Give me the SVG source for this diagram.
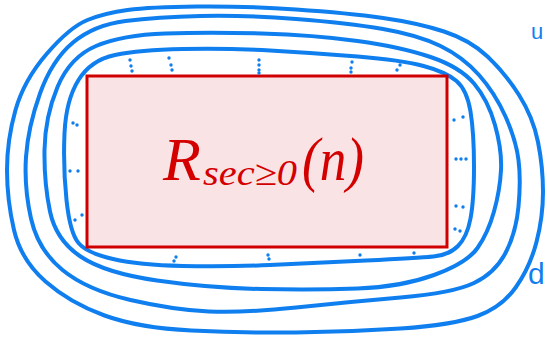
<svg xmlns="http://www.w3.org/2000/svg" width="547" height="339" viewBox="0 0 547 339">
<style>
.loop{fill:none;stroke:#0f7ff0;stroke-width:4;stroke-linejoin:round;stroke-linecap:round}
.dot{fill:#0f7ff0}
.lbl{fill:#d40000;font-family:"Liberation Serif","DejaVu Serif",serif;font-style:italic}
.side{fill:#0f7ff0;font-family:"Liberation Sans","DejaVu Sans",sans-serif}
</style>
<rect width="547" height="339" fill="#ffffff"/>
<g id="connectors">
<path class="loop" d="M87.5,20 Q105,13 127.5,10 Q150,7 197,6.5 Q244,6 296,9.5 Q348,13 383,18 Q418,23 444,31.5 Q470,40 487.5,56.5 Q505,73 519,95 Q533,117 538,142 Q543,167 543,192 Q543,217 536.5,242 Q530,267 516,287 Q502,307 477.5,316 Q453,325 400.5,328.5 Q348,332 296,332.5 Q244,333 191.5,330.5 Q139,328 104.5,315.5 Q70,303 45.5,281.5 Q21,260 14,230 Q7,200 7,170 Q7,140 15.5,110 Q24,80 47,53.5 Q70,27 87.5,20 Z"/>
<path class="loop" d="M73,42.5 Q94,25 125.5,21 Q157,17 200.5,16 Q244,15 296,19 Q348,23 383,29 Q418,35 440.5,46 Q463,57 479,75 Q495,93 505.5,116.5 Q516,140 518.5,160 Q521,180 518.5,206.5 Q516,233 505.5,253 Q495,273 474,283 Q453,293 400.5,297.5 Q348,302 296,307.5 Q244,313 209,311.5 Q174,310 130.5,300 Q87,290 62.5,270 Q38,250 31,218.5 Q24,187 26,157 Q28,127 40,93.5 Q52,60 73,42.5 Z"/>
<path class="loop" d="M96,46 Q122,35 165.5,33.5 Q209,32 261.5,33.5 Q314,35 357.5,41 Q401,47 430.5,57 Q460,67 474,83.5 Q488,100 495,125 Q502,150 501,170 Q500,190 494,211.5 Q488,233 477.5,248 Q467,263 434,275 Q401,287 357.5,288.5 Q314,290 261.5,289 Q209,288 157,280.5 Q105,273 80.5,256.5 Q56,240 50,211.5 Q44,183 44.5,150 Q45,117 57.5,87 Q70,57 96,46 Z"/>
<path class="loop" d="M78.5,80 Q91,60 115,55 Q139,50 182.5,49 Q226,48 270,50.5 Q314,53 357.5,56.5 Q401,60 423.5,66 Q446,72 456.5,81 Q467,90 470.5,111.5 Q474,133 474,166.5 Q474,200 470.5,218.5 Q467,237 458,246 Q449,255 433.5,256.5 Q418,258 366,260.5 Q314,263 270,265 Q226,267 182.5,266 Q139,265 113,259 Q87,253 78.5,243 Q70,233 66.5,200 Q63,167 64.5,133.5 Q66,100 78.5,80 Z"/>
</g>
<g id="region">
<rect x="87" y="76" width="360" height="171" fill="#f9e3e4" stroke="#d10000" stroke-width="3"/>
<text class="lbl" x="163" y="180" font-size="62">R</text>
<text class="lbl" x="203" y="185" font-size="36" textLength="94" lengthAdjust="spacingAndGlyphs">sec≥0</text>
<text class="lbl" x="302" y="180" font-size="62" textLength="62" lengthAdjust="spacingAndGlyphs">(n)</text>
</g>
<g id="dots">
<circle class="dot" cx="130" cy="60" r="1.7"/><circle class="dot" cx="131" cy="66" r="1.7"/><circle class="dot" cx="132" cy="71" r="1.7"/>
<circle class="dot" cx="169" cy="58" r="1.7"/><circle class="dot" cx="171" cy="65" r="1.7"/><circle class="dot" cx="172" cy="70" r="1.7"/>
<circle class="dot" cx="259" cy="60" r="1.7"/><circle class="dot" cx="259" cy="65" r="1.7"/><circle class="dot" cx="259" cy="70" r="1.7"/><circle class="dot" cx="259" cy="73" r="1.7"/>
<circle class="dot" cx="352" cy="62" r="1.7"/><circle class="dot" cx="351" cy="68" r="1.7"/><circle class="dot" cx="351" cy="72" r="1.7"/>
<circle class="dot" cx="400" cy="65" r="1.7"/><circle class="dot" cx="397" cy="70" r="1.7"/>
<circle class="dot" cx="73" cy="123" r="1.7"/><circle class="dot" cx="77" cy="125" r="1.7"/>
<circle class="dot" cx="70" cy="171" r="1.7"/><circle class="dot" cx="78" cy="171" r="1.7"/>
<circle class="dot" cx="75" cy="220" r="1.7"/><circle class="dot" cx="82" cy="215" r="1.7"/>
<circle class="dot" cx="454" cy="120" r="1.7"/><circle class="dot" cx="463" cy="117" r="1.7"/>
<circle class="dot" cx="456" cy="159" r="1.7"/><circle class="dot" cx="461" cy="159" r="1.7"/><circle class="dot" cx="466" cy="159" r="1.7"/>
<circle class="dot" cx="456" cy="206" r="1.7"/><circle class="dot" cx="463" cy="207" r="1.7"/>
<circle class="dot" cx="455" cy="229" r="1.7"/><circle class="dot" cx="460" cy="231" r="1.7"/>
<circle class="dot" cx="174" cy="261" r="1.7"/><circle class="dot" cx="176" cy="257" r="1.7"/>
<circle class="dot" cx="268" cy="255" r="1.7"/><circle class="dot" cx="269" cy="259" r="1.7"/>
<circle class="dot" cx="360" cy="255" r="1.7"/>
<circle class="dot" cx="414" cy="253" r="1.7"/>
</g>
<g id="label-u"><text class="side" x="531" y="39" font-size="22">u</text></g>
<g id="label-d"><text class="side" x="528" y="284" font-size="30">d</text></g>
</svg>
